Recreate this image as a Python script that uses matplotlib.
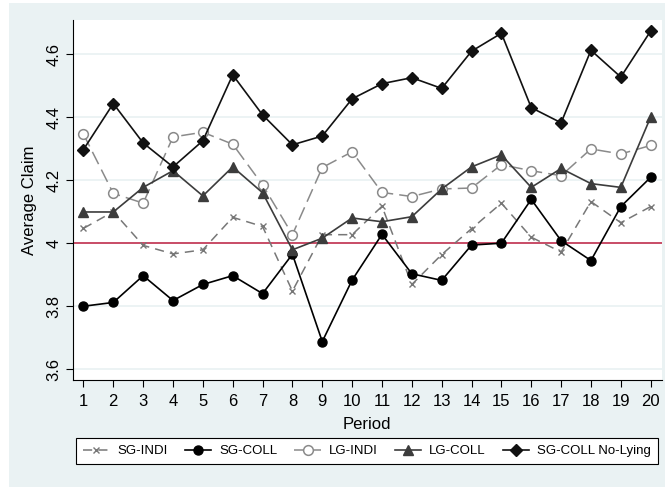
import matplotlib
matplotlib.use("Agg")
import matplotlib.pyplot as plt
from matplotlib.patches import Rectangle
from matplotlib.ticker import FormatStrFormatter

plt.rcParams['font.family'] = ['Liberation Sans', 'DejaVu Sans']

# data
period = list(range(1, 21))
sg_indi = [4.047, 4.100, 3.993, 3.966, 3.979, 4.082, 4.053, 3.848, 4.027, 4.027,
           4.117, 3.869, 3.964, 4.046, 4.127, 4.019, 3.972, 4.132, 4.065, 4.116]
sg_coll = [3.800, 3.812, 3.897, 3.818, 3.869, 3.897, 3.840, 3.965, 3.688, 3.883,
           4.028, 3.903, 3.882, 3.994, 4.000, 4.139, 4.008, 3.945, 4.116, 4.209]
lg_indi = [4.346, 4.158, 4.127, 4.337, 4.352, 4.314, 4.185, 4.027, 4.240, 4.290,
           4.161, 4.148, 4.172, 4.175, 4.249, 4.230, 4.214, 4.299, 4.283, 4.310]
lg_coll = [4.099, 4.099, 4.177, 4.230, 4.150, 4.242, 4.160, 3.979, 4.016, 4.080,
           4.068, 4.084, 4.172, 4.242, 4.280, 4.177, 4.237, 4.189, 4.177, 4.400]
sg_coll_nolie = [4.297, 4.443, 4.318, 4.242, 4.325, 4.534, 4.407, 4.312, 4.340, 4.458,
                 4.506, 4.525, 4.491, 4.609, 4.666, 4.430, 4.382, 4.612, 4.527, 4.673]
yticks = [3.6, 3.8, 4.0, 4.2, 4.4, 4.6]
ref_level = 4.0

bg = '#EAF2F3'
fig = plt.figure(figsize=(6.65, 4.87), dpi=100)
fig.patch.set_facecolor('white')
# stata-like outer region
fig.patches.append(Rectangle((9 / 665, 0), 1 - 9 / 665, 1 - 3 / 487,
                             transform=fig.transFigure, facecolor=bg,
                             edgecolor='none', zorder=-5))

ax = fig.add_axes([72.7 / 665, 107 / 487, 589.3 / 665, 360 / 487])
ax.set_facecolor('white')

ax.plot(period, sg_indi, color='#777777', lw=1.1, ls=(0, (6, 4)), marker='x',
        ms=4, mew=1.0, label='SG-INDI')
ax.plot(period, sg_coll, color='black', lw=1.2, marker='o', ms=6.5,
        label='SG-COLL')
ax.plot(period, lg_indi, color='#8a8a8a', lw=1.1, ls=(0, (9, 4)), marker='o',
        ms=7, mfc='white', mec='#8a8a8a', mew=1.1, label='LG-INDI')
ax.plot(period, lg_coll, color='#3c3c3c', lw=1.2, marker='^', ms=6.5,
        label='LG-COLL')
ax.plot(period, sg_coll_nolie, color='#111111', lw=1.2, marker='D', ms=6.5,
        label='SG-COLL No-Lying')
ax.axhline(ref_level, color='#C2304F', lw=1.2, zorder=1)

ax.set_xlim(0.64, 20.38)
ax.set_ylim(3.566, 4.708)
ax.set_xticks(period)
ax.set_yticks(yticks)
ax.yaxis.set_major_formatter(FormatStrFormatter('%g'))
ax.grid(axis='y', color=bg, lw=1.3, zorder=0)
ax.set_axisbelow(True)
for s in ['top', 'right']:
    ax.spines[s].set_visible(False)
ax.tick_params(axis='both', direction='out', length=5, width=0.8, labelsize=12)
ax.tick_params(axis='x', pad=5)
ax.tick_params(axis='y', pad=3)
for lab in ax.get_yticklabels():
    lab.set_rotation(90)
    lab.set_va('center')
ax.set_xlabel('Period', fontsize=12, labelpad=6)
ax.set_ylabel('Average Claim', fontsize=12, labelpad=7)

leg = fig.legend(loc='center', bbox_to_anchor=(367 / 665, 1 - 451 / 487), ncol=5,
                 fontsize=9.5, frameon=True, fancybox=False, edgecolor='black',
                 facecolor='white', framealpha=1,
                 handlelength=2.0, columnspacing=1.3, handletextpad=0.6,
                 borderpad=0.5)
leg.get_frame().set_linewidth(0.8)

fig.savefig('out.png', dpi=100, facecolor=fig.get_facecolor())
